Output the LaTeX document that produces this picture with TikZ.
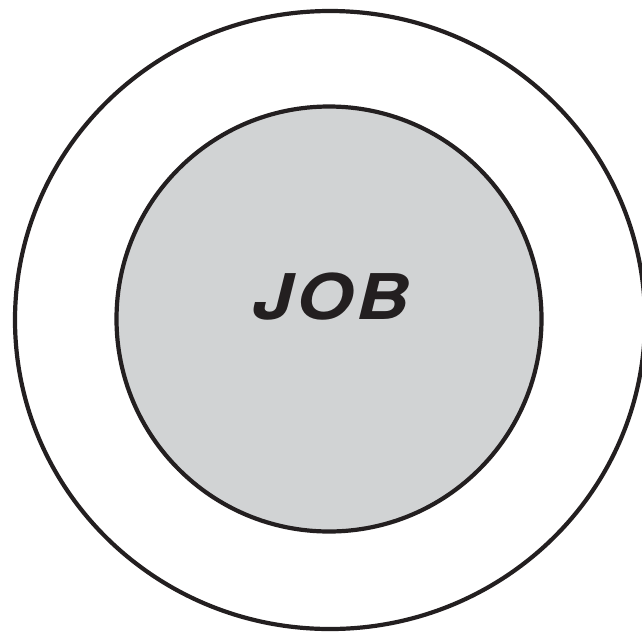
\documentclass[tikz,border=0pt]{standalone}
\usepackage{fontspec}
\setmainfont{TeX Gyre Heros}
\usepackage{graphicx}
\definecolor{ink}{HTML}{231F20}
\definecolor{disc}{HTML}{D1D3D4}
\begin{document}
\begin{tikzpicture}[x=1pt,y=-1pt,
  ring/.style={draw=ink,line width=4.2pt},
  label/.style={text=ink,font=\fontsize{63}{66}\selectfont\bfseries\itshape,inner sep=0pt}]
\useasboundingbox (0,0) rectangle (642,633);
\path[ring] (330,320) ellipse [x radius=315, y radius=309];
\path[ring,fill=disc] (329,319) circle [radius=212.5];
\node[label] (job) at (331,297) {\scalebox{1.16}[1]{J\kern3pt O\kern3pt B}};
\end{tikzpicture}
\end{document}
